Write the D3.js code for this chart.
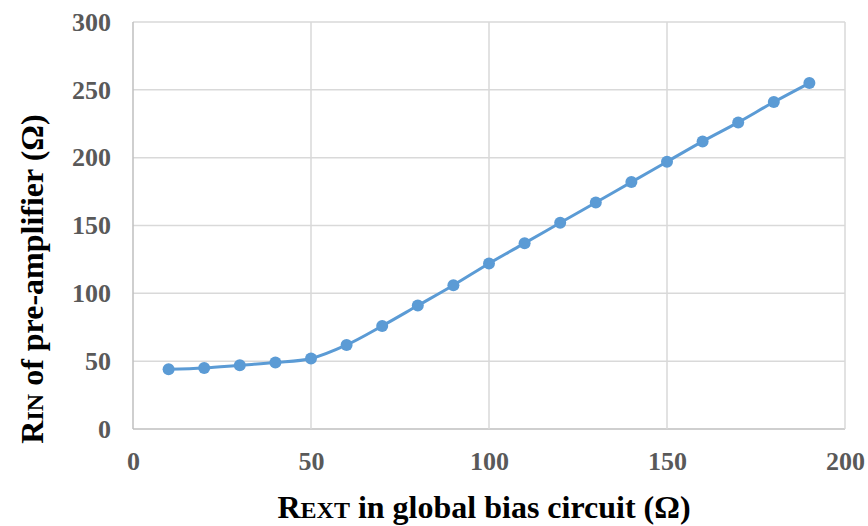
<!DOCTYPE html>
<html>
<head>
<meta charset="utf-8">
<script src="https://cdn.jsdelivr.net/npm/d3@7"></script>
<style>
  body { margin: 0; background: #fff; }
  text { font-family: "Liberation Serif", "Times New Roman", serif; font-weight: bold; }
</style>
</head>
<body>
<div id="chart"></div>
<script>
const rext = [10, 20, 30, 40, 50, 60, 70, 80, 90, 100, 110, 120, 130, 140, 150, 160, 170, 180, 190];
const rin = [44, 45, 47, 49, 52, 62, 76, 91, 106, 122, 137, 152, 167, 182, 197, 212, 226, 241, 255];
const xTicks = [0, 50, 100, 150, 200];
const yTicks = [0, 50, 100, 150, 200, 250, 300];

const width = 868;
const height = 526;
const margin = { top: 22, right: 23, bottom: 97, left: 133 };

const svg = d3
  .select("#chart")
  .append("svg")
  .attr("width", width)
  .attr("height", height);

const x = d3
  .scaleLinear()
  .domain([0, 200])
  .range([margin.left, width - margin.right]);

const y = d3
  .scaleLinear()
  .domain([0, 300])
  .range([height - margin.bottom, margin.top]);

// grid
svg
  .append("g")
  .selectAll("line")
  .data(yTicks)
  .enter()
  .append("line")
  .attr("x1", margin.left)
  .attr("x2", width - margin.right)
  .attr("y1", (d) => y(d))
  .attr("y2", (d) => y(d))
  .attr("stroke", (d) => (d === 0 ? "#bfbfbf" : "#d9d9d9"))
  .attr("stroke-width", 1.5);

svg
  .append("g")
  .selectAll("line")
  .data(xTicks)
  .enter()
  .append("line")
  .attr("x1", (d) => x(d))
  .attr("x2", (d) => x(d))
  .attr("y1", y(0))
  .attr("y2", y(300))
  .attr("stroke", (d) => (d === 0 ? "#bfbfbf" : "#d9d9d9"))
  .attr("stroke-width", 1.5);

// axes (labels only)
const yAxis = d3.axisLeft(y).tickValues(yTicks).tickSize(0).tickPadding(22);
const xAxis = d3.axisBottom(x).tickValues(xTicks).tickSize(0).tickPadding(23);

svg
  .append("g")
  .attr("transform", `translate(${margin.left}, 0)`)
  .call(yAxis)
  .call((g) => g.select(".domain").remove())
  .selectAll("text")
  .style("font-size", "26px")
  .attr("fill", "#595959");

svg
  .append("g")
  .attr("transform", `translate(0, ${y(0)})`)
  .call(xAxis)
  .call((g) => g.select(".domain").remove())
  .selectAll("text")
  .style("font-size", "26px")
  .attr("fill", "#595959");

// line
const line = d3
  .line()
  .x((d, i) => x(rext[i]))
  .y((d) => y(d))
  .curve(d3.curveCatmullRom);

svg
  .append("path")
  .datum(rin)
  .attr("d", line)
  .attr("fill", "none")
  .attr("stroke", "#5b9bd5")
  .attr("stroke-width", 3);

svg
  .append("g")
  .selectAll("circle")
  .data(rin)
  .enter()
  .append("circle")
  .attr("cx", (d, i) => x(rext[i]))
  .attr("cy", (d) => y(d))
  .attr("r", 6)
  .attr("fill", "#5b9bd5");

// axis titles
const xTitle = svg
  .append("text")
  .attr("x", 484)
  .attr("y", 518)
  .attr("text-anchor", "middle")
  .style("font-size", "32px")
  .attr("fill", "#000");
xTitle.append("tspan").text("R");
xTitle.append("tspan").style("font-size", "24px").text("EXT");
xTitle.append("tspan").text(" in global bias circuit (Ω)");

const yTitle = svg
  .append("text")
  .attr("transform", "translate(43, 279) rotate(-90)")
  .attr("text-anchor", "middle")
  .style("font-size", "32px")
  .attr("fill", "#000");
yTitle.append("tspan").text("R");
yTitle.append("tspan").style("font-size", "24px").text("IN");
yTitle.append("tspan").text(" of pre-amplifier (Ω)");
</script>
</body>
</html>
